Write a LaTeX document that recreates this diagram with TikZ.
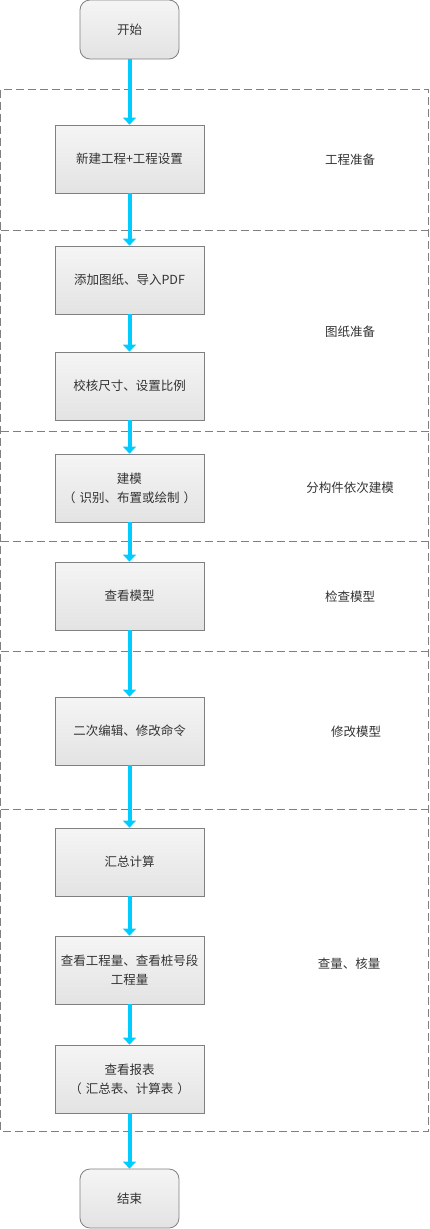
\documentclass[tikz,border=0pt]{standalone}
\usepackage{fontspec}
\newfontfamily\cjk{Noto Sans CJK SC}
\usetikzlibrary{arrows.meta}
\definecolor{flowblue}{RGB}{0,204,255}
\definecolor{boxgray}{RGB}{128,128,128}
\definecolor{txtgray}{RGB}{51,51,51}

\begin{document}
\begin{tikzpicture}[x=1pt, y=-1pt,
    every node/.style={font=\cjk\fontsize{12.5}{19}\selectfont, text=txtgray, align=center},
    stepbox/.style={draw=boxgray, line width=0.8pt, top color=gray!8, bottom color=gray!22,
        minimum width=149pt, minimum height=68pt, inner sep=0pt},
    endbox/.style={stepbox, minimum width=99pt, minimum height=59pt, rounded corners=10pt},
    flow/.style={flowblue, line width=4pt, -{Triangle[width=13pt,length=7pt]}},
    lane/.style={boxgray, line width=0.8pt, dash pattern=on 8pt off 4pt}]
    \useasboundingbox (0,0) rectangle (429,1229);
    % stage lanes
    \draw[lane] (0.5,89.5) rectangle (428.5,1131);
    \foreach \y in {230,431,541,651,809}
        \draw[lane] (0.5,\y) -- (428.5,\y);
    % steps
    \node[endbox] (start) at (129.5,29.5) {开始};
    \node[stepbox] (new) at (129.5,159) {新建工程+工程设置};
    \node[stepbox] (pdf) at (129.5,280) {添加图纸、导入PDF};
    \node[stepbox] (scale) at (129.5,386) {校核尺寸、设置比例};
    \node[stepbox] (model) at (129.5,488) {建模\\（\hspace{4pt}识别、布置或绘制\hspace{4pt}）};
    \node[stepbox] (check) at (129.5,596) {查看模型};
    \node[stepbox] (edit) at (129.5,731) {二次编辑、修改命令};
    \node[stepbox] (sum) at (129.5,862) {汇总计算};
    \node[stepbox] (qty) at (129.5,970) {查看工程量、查看桩号段\\工程量};
    \node[stepbox] (report) at (129.5,1079) {查看报表\\（\hspace{4pt}汇总表、计算表\hspace{4pt}）};
    \node[endbox] (finish) at (129.5,1198.5) {结束};
    % stage names
    \node (prep) at (350,160) {工程准备};
    \node (drawings) at (350,332) {图纸准备};
    \node (build) at (350,488) {分构件依次建模};
    \node (inspect) at (350,597) {检查模型};
    \node (modify) at (356,732) {修改模型};
    \node (quantity) at (349,964) {查量、核量};
    % flow
    \foreach \a/\b in {start/new, new/pdf, pdf/scale, scale/model, model/check,
        check/edit, edit/sum, sum/qty, qty/report, report/finish}
        \draw[flow] (\a) -- (\b);
\end{tikzpicture}
\end{document}
